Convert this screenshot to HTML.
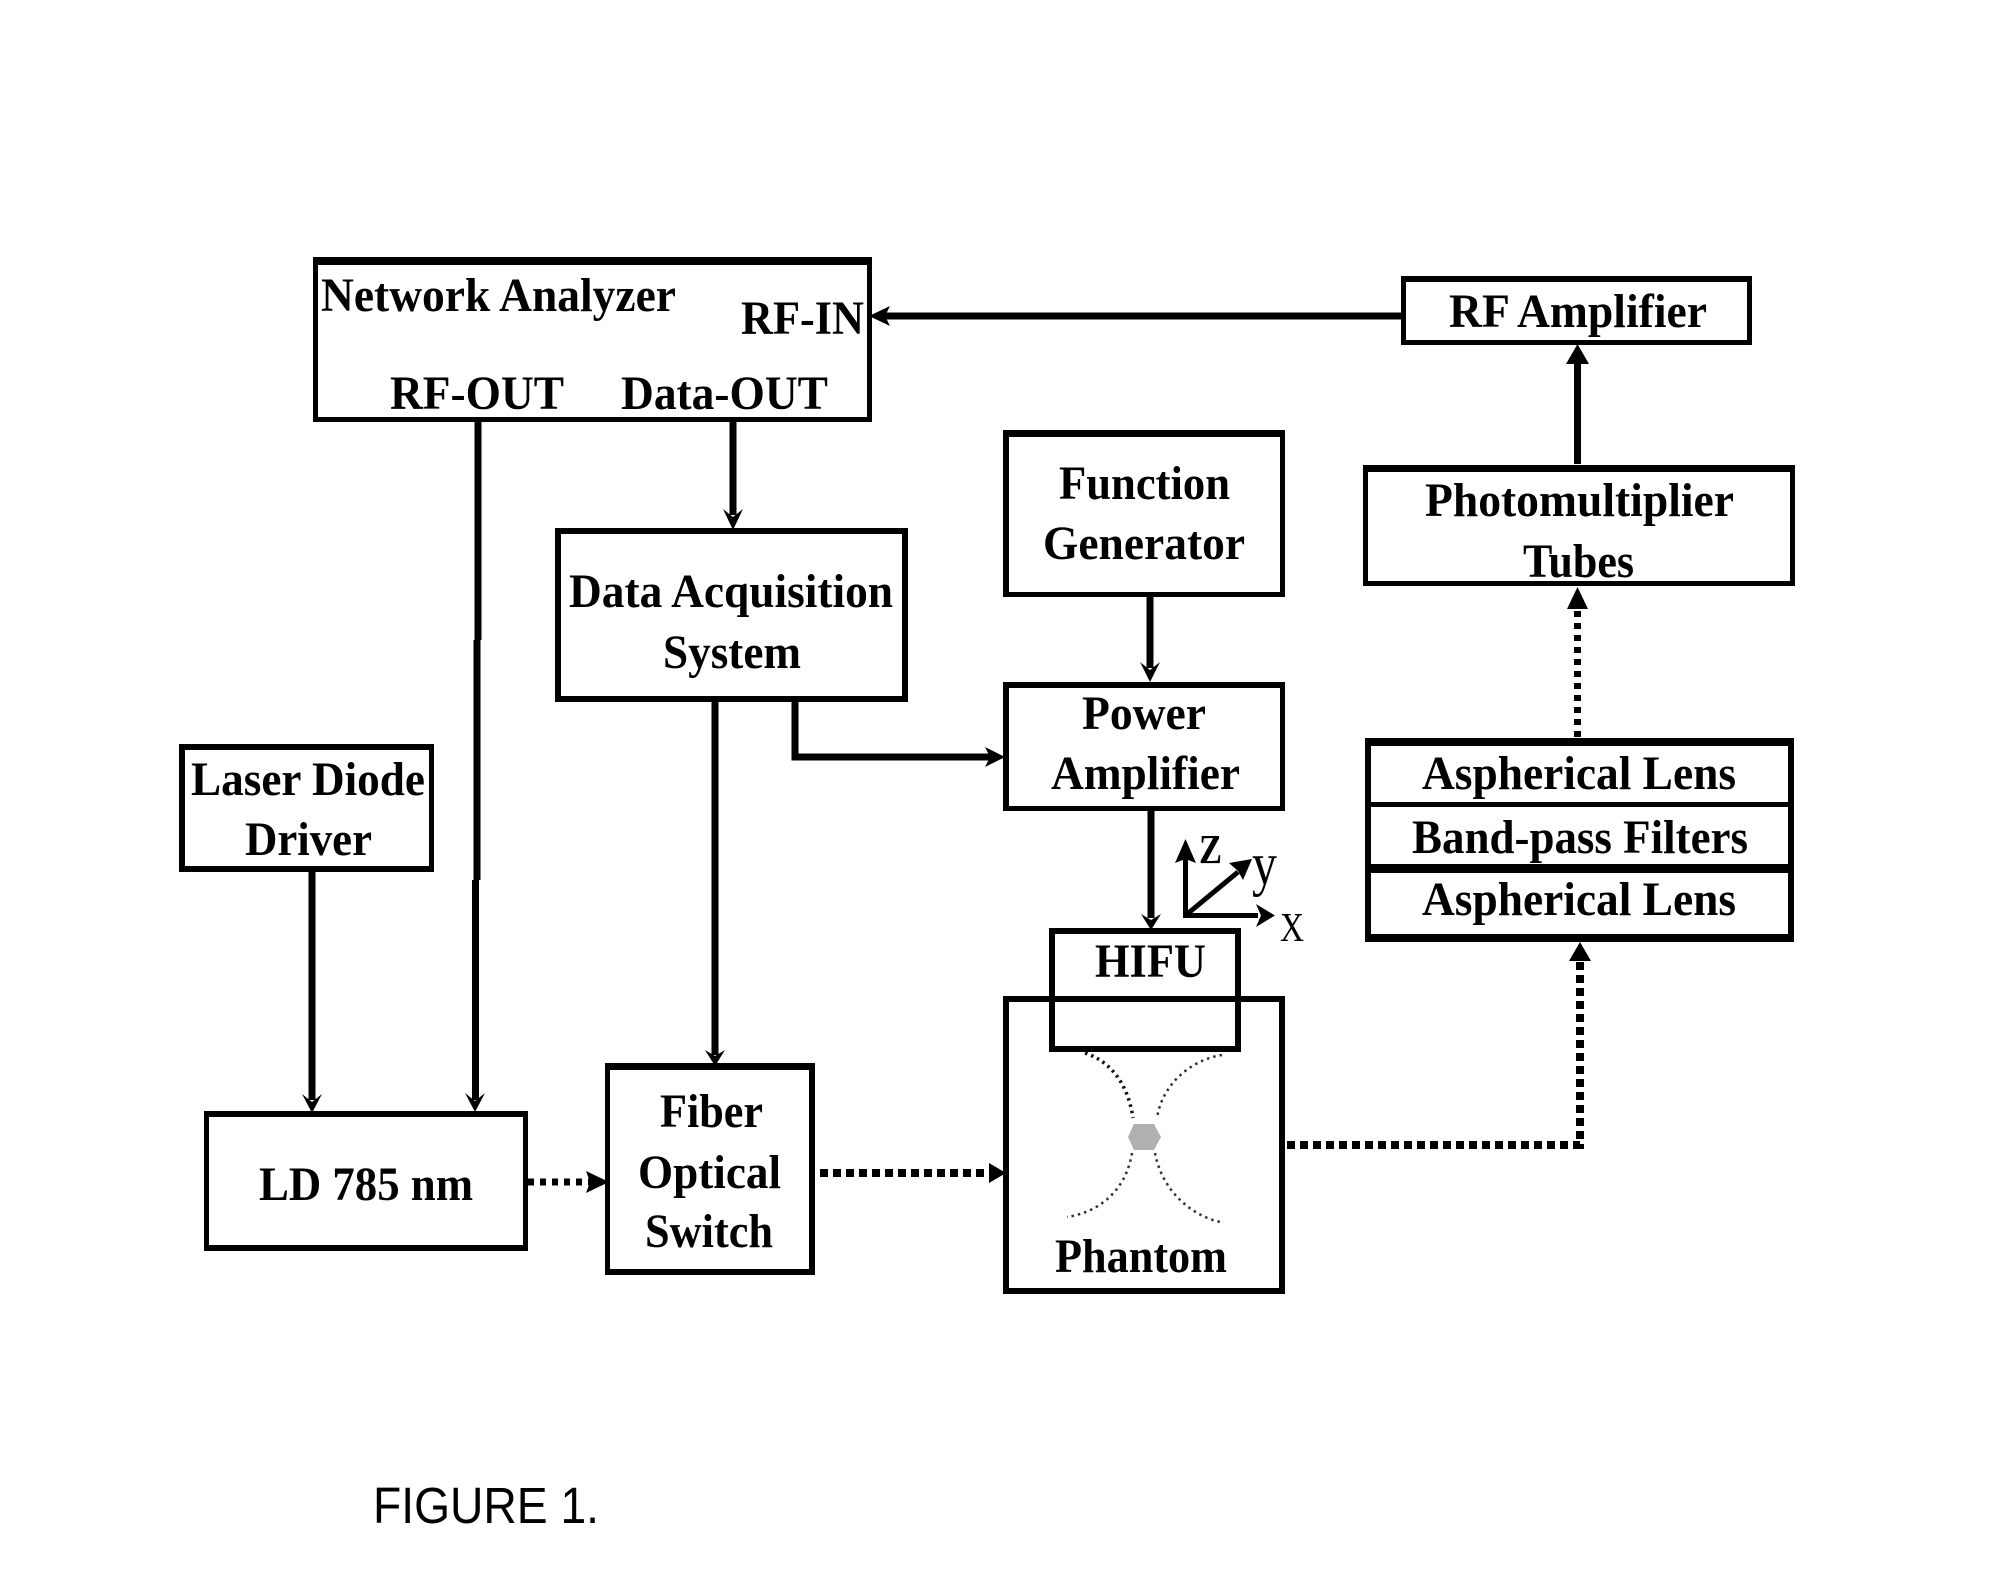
<!DOCTYPE html>
<html>
<head>
<meta charset="utf-8">
<style>
html,body{margin:0;padding:0;background:#fff;width:2006px;height:1574px;overflow:hidden}
svg{display:block}
.t{font-family:"Liberation Serif",serif;font-weight:bold;font-size:48px;fill:#000}
.l{stroke:#000;stroke-width:7;fill:none}
.d{stroke:#000;stroke-width:8;fill:none;stroke-dasharray:8 5}
.e{stroke:#000;stroke-width:7;fill:none;stroke-dasharray:6 6}
.c{fill:none;stroke:#333;stroke-width:2.5;stroke-dasharray:2.5 4}
</style>
</head>
<body>
<svg width="2006" height="1574" viewBox="0 0 2006 1574" xmlns="http://www.w3.org/2000/svg">
<rect width="2006" height="1574" fill="#fff"/>

<!-- connector lines -->
<path class="l" d="M478 422V640"/>
<path class="l" d="M477 640V880"/>
<path class="l" d="M475.500 880V1100"/>
<path class="l" d="M733 422V515"/>
<path class="l" d="M715 702V1055"/>
<path class="l" d="M795 702V757H992"/>
<path class="l" d="M1150 597V668"/>
<path class="l" d="M1151 811V918"/>
<path class="l" d="M312 872V1100"/>
<path class="l" d="M1577.500 464V355"/>
<path class="l" d="M880 316H1401"/>

<path class="e" d="M1577.500 737V600"/>
<path class="e" d="M528 1182H592"/>
<path class="d" d="M820 1173H992"/>
<path class="e" style="stroke-width:8;stroke-dasharray:8 5" d="M1287 1145H1580V955"/>

<!-- boxes -->
<g fill="#000">
<path fill-rule="evenodd" d="M313 257H872V422H313ZM318 265V417H867V265Z"/>
<path fill-rule="evenodd" d="M555 528H908V702H555ZM561 534V696H902V534Z"/>
<path fill-rule="evenodd" d="M1003 430H1285V597H1003ZM1009 437V592H1280V437Z"/>
<path fill-rule="evenodd" d="M1003 682H1285V811H1003ZM1009 688V806H1280V688Z"/>
<path fill-rule="evenodd" d="M1401 276H1752V345H1401ZM1406 282V340H1747V282Z"/>
<path fill-rule="evenodd" d="M1363 465H1795V586H1363ZM1368 472V581H1790V472Z"/>
<path fill-rule="evenodd" d="M1365 738H1794V942H1365ZM1371 746V802H1788V746ZM1371 807V864H1788V807ZM1371 873V934H1788V873Z"/>
<path fill-rule="evenodd" d="M1003 996H1285V1294H1003ZM1009 1002V1288H1279V1002Z"/>
<path fill-rule="evenodd" d="M1049 928H1241V1052H1049ZM1055 934V1046H1235V934Z"/>
<path fill-rule="evenodd" d="M179 744H434V872H179ZM185 750V866H429V750Z"/>
<path fill-rule="evenodd" d="M204 1111H528V1251H204ZM209 1117V1245H523V1117Z"/>
<path fill-rule="evenodd" d="M605 1063H815V1275H605ZM610 1070V1269H809V1070Z"/>
</g>

<!-- arrowheads -->
<g fill="#000">
<polygon points="733,530 723,509 733,517 743,509"/>
<polygon points="869,316 890,306 885,316 890,326"/>
<polygon points="1150,682 1140,662 1150,670 1160,662"/>
<polygon points="1005,757 985,747 990,757 985,767"/>
<polygon points="1151,930 1141,914 1151,920 1161,914"/>
<polygon points="312,1113 302,1094 312,1102 322,1094"/>
<polygon points="475,1112 465,1093 475,1101 485,1093"/>
<polygon points="715,1066 705,1050 715,1056 725,1050"/>
<polygon points="1577.500,344 1566,364 1589,364"/>
<polygon points="1577.500,587 1567,609 1588,609"/>
<polygon points="1580,942 1569,961 1591,961"/>
<polygon points="609,1182 586,1171 590,1182 586,1193"/>
<polygon points="1006,1173 989,1163 989,1183"/>
</g>

<!-- axes -->
<g>
<path d="M1185.500 858V915.500H1258" fill="none" stroke="#000" stroke-width="5"/>
<path d="M1186 915L1238 872" fill="none" stroke="#000" stroke-width="5"/>
<polygon points="1185.500,839 1175,863 1185.500,859 1196,863"/>
<polygon points="1275,915.500 1256,904 1261,915.500 1256,927"/>
<polygon points="1252,859 1229,863 1238,871 1243,880"/>
<text class="t" x="1199" y="863" style="font-size:41px" textLength="23" lengthAdjust="spacingAndGlyphs">Z</text>
<text class="t" x="1252" y="884" style="font-size:60px;font-weight:normal" textLength="25" lengthAdjust="spacingAndGlyphs">y</text>
<text class="t" x="1280" y="941" style="font-size:41px;font-weight:normal" textLength="24" lengthAdjust="spacingAndGlyphs">X</text>
</g>

<!-- HIFU beam -->
<path class="c" style="stroke:#111;stroke-width:3.500" d="M1085 1053C1112 1062 1128 1085 1133 1118"/>
<path class="c" d="M1222 1055C1190 1060 1162 1085 1157 1118"/>
<path class="c" d="M1132 1153C1126 1190 1100 1212 1067 1217"/>
<path class="c" d="M1155 1153C1162 1190 1190 1215 1220 1222"/>
<polygon points="1128,1137 1134,1124 1154,1124 1161,1137 1154,1150 1134,1150" fill="#b0b0b0"/>

<!-- labels -->
<g class="t">
<text x="321" y="311" textLength="355" lengthAdjust="spacingAndGlyphs">Network Analyzer</text>
<text x="741" y="334" textLength="123" lengthAdjust="spacingAndGlyphs">RF-IN</text>
<text x="390" y="409" textLength="174" lengthAdjust="spacingAndGlyphs">RF-OUT</text>
<text x="621" y="409" textLength="207" lengthAdjust="spacingAndGlyphs">Data-OUT</text>
<text x="569" y="607" textLength="324" lengthAdjust="spacingAndGlyphs">Data Acquisition</text>
<text x="663" y="668" textLength="138" lengthAdjust="spacingAndGlyphs">System</text>
<text x="1449" y="327" textLength="258" lengthAdjust="spacingAndGlyphs">RF Amplifier</text>
<text x="1425" y="516" textLength="309" lengthAdjust="spacingAndGlyphs">Photomultiplier</text>
<text x="1523" y="577" textLength="111" lengthAdjust="spacingAndGlyphs">Tubes</text>
<text x="1422" y="789" textLength="314" lengthAdjust="spacingAndGlyphs">Aspherical Lens</text>
<text x="1412" y="853" textLength="336" lengthAdjust="spacingAndGlyphs">Band-pass Filters</text>
<text x="1422" y="915" textLength="314" lengthAdjust="spacingAndGlyphs">Aspherical Lens</text>
<text x="1059" y="499" textLength="171" lengthAdjust="spacingAndGlyphs">Function</text>
<text x="1043" y="559" textLength="202" lengthAdjust="spacingAndGlyphs">Generator</text>
<text x="1082" y="729" textLength="124" lengthAdjust="spacingAndGlyphs">Power</text>
<text x="1051" y="789" textLength="189" lengthAdjust="spacingAndGlyphs">Amplifier</text>
<text x="1095" y="977" textLength="111" lengthAdjust="spacingAndGlyphs">HIFU</text>
<text x="1055" y="1272" textLength="172" lengthAdjust="spacingAndGlyphs">Phantom</text>
<text x="191" y="795" textLength="234" lengthAdjust="spacingAndGlyphs">Laser Diode</text>
<text x="245" y="855" textLength="127" lengthAdjust="spacingAndGlyphs">Driver</text>
<text x="259" y="1200" textLength="214" lengthAdjust="spacingAndGlyphs">LD 785 nm</text>
<text x="660" y="1127" textLength="103" lengthAdjust="spacingAndGlyphs">Fiber</text>
<text x="638" y="1188" textLength="143" lengthAdjust="spacingAndGlyphs">Optical</text>
<text x="645" y="1247" textLength="128" lengthAdjust="spacingAndGlyphs">Switch</text>
</g>

<text x="373" y="1523" font-family="'Liberation Sans',sans-serif" font-size="51" fill="#000" textLength="226" lengthAdjust="spacingAndGlyphs">FIGURE 1.</text>
</svg>
</body>
</html>
